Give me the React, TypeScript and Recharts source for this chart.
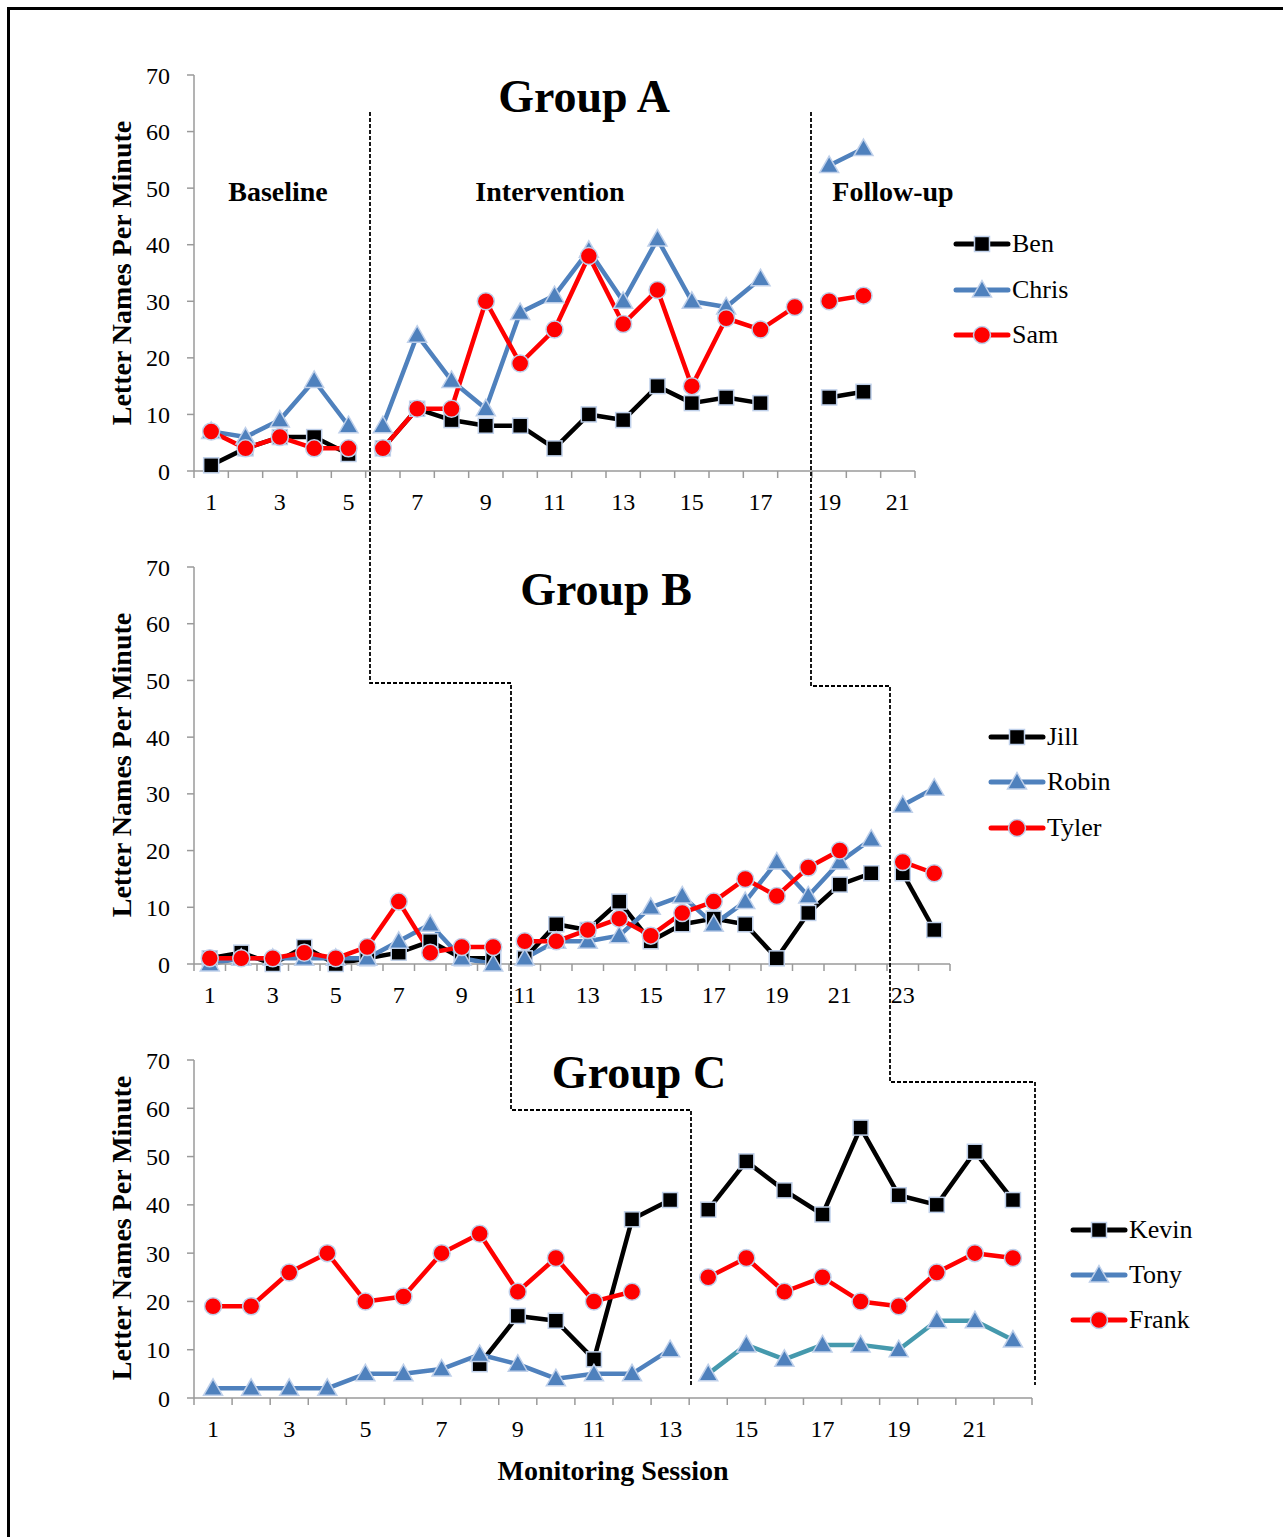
import React from 'react';
import { LineChart, Line, XAxis, YAxis } from 'recharts';

const FONT = '"Liberation Serif", "Times New Roman", serif';
const AXIS = '#9a9a9a';
const EDGE = '#bfd0ea';

// Group A: baseline 1-5, intervention 6-18, follow-up 19-21
const sessionsA = [1, 2, 3, 4, 5, 6, 7, 8, 9, 10, 11, 12, 13, 14, 15, 16, 17, 18, 19, 20, 21];
const ben = [1, 4, 6, 6, 3, 4, 11, 9, 8, 8, 4, 10, 9, 15, 12, 13, 12, null, 13, 14, null];
const chris = [7, 6, 9, 16, 8, 8, 24, 16, 11, 28, 31, 39, 30, 41, 30, 29, 34, null, 54, 57, null];
const sam = [7, 4, 6, 4, 4, 4, 11, 11, 30, 19, 25, 38, 26, 32, 15, 27, 25, 29, 30, 31, null];
const phaseEndsA = [5, 18];

// Group B: baseline 1-10, intervention 11-22, follow-up 23-24
const sessionsB = [1, 2, 3, 4, 5, 6, 7, 8, 9, 10, 11, 12, 13, 14, 15, 16, 17, 18, 19, 20, 21, 22, 23, 24];
const jill = [1, 2, 0, 3, 0, 1, 2, 4, 1, 1, 1, 7, 6, 11, 4, 7, 8, 7, 1, 9, 14, 16, 16, 6];
const robin = [0, 1, 1, 1, 1, 1, 4, 7, 1, 0, 1, 4, 4, 5, 10, 12, 7, 11, 18, 12, 18, 22, 28, 31];
const tyler = [1, 1, 1, 2, 1, 3, 11, 2, 3, 3, 4, 4, 6, 8, 5, 9, 11, 15, 12, 17, 20, null, 18, 16];
const phaseEndsB = [10, 22];

// Group C: 1-13, follow-up 14-22
const sessionsC = [1, 2, 3, 4, 5, 6, 7, 8, 9, 10, 11, 12, 13, 14, 15, 16, 17, 18, 19, 20, 21, 22];
const kevin = [null, null, null, null, null, null, null, 7, 17, 16, 8, 37, 41, 39, 49, 43, 38, 56, 42, 40, 51, 41];
const tony = [2, 2, 2, 2, 5, 5, 6, 9, 7, 4, 5, 5, 10, 5, 11, 8, 11, 11, 10, 16, 16, 12];
const frank = [19, 19, 26, 30, 20, 21, 30, 34, 22, 29, 20, 22, null, 25, 29, 22, 25, 20, 19, 26, 30, 29];
const phaseEndsC = [13];

const yTicks = [0, 10, 20, 30, 40, 50, 60, 70];

type Series = { key: string; name: string; values: (number | null)[]; shape: string; fill: string; strokes: string[] };

const seriesA: Series[] = [
  { key: 'ben', name: 'Ben', values: ben, shape: 'square', fill: '#000000', strokes: ['#000000'] },
  { key: 'chris', name: 'Chris', values: chris, shape: 'triangle', fill: '#4f81bd', strokes: ['#4f81bd'] },
  { key: 'sam', name: 'Sam', values: sam, shape: 'circle', fill: '#ff0000', strokes: ['#ff0000'] },
];
const seriesB: Series[] = [
  { key: 'jill', name: 'Jill', values: jill, shape: 'square', fill: '#000000', strokes: ['#000000'] },
  { key: 'robin', name: 'Robin', values: robin, shape: 'triangle', fill: '#4f81bd', strokes: ['#4f81bd'] },
  { key: 'tyler', name: 'Tyler', values: tyler, shape: 'circle', fill: '#ff0000', strokes: ['#ff0000'] },
];
const seriesC: Series[] = [
  { key: 'kevin', name: 'Kevin', values: kevin, shape: 'square', fill: '#000000', strokes: ['#000000'] },
  { key: 'tony', name: 'Tony', values: tony, shape: 'triangle', fill: '#4f81bd', strokes: ['#4f81bd', '#4599ad'] },
  { key: 'frank', name: 'Frank', values: frank, shape: 'circle', fill: '#ff0000', strokes: ['#ff0000'] },
];

// split every series into one column per phase so the line breaks at phase changes
const buildRows = (sessions: number[], series: Series[], phaseEnds: number[]) =>
  sessions.map((s, i) => {
    const row: any = { s };
    const phase = phaseEnds.filter((e) => s > e).length;
    series.forEach((sr) => {
      row[`${sr.key}_${phase}`] = sr.values[i];
    });
    return row;
  });

const Marker = ({ shape, fill, cx, cy }: { shape: string; fill: string; cx: number; cy: number }) => {
  if (shape === 'square')
    return <rect x={cx - 7.5} y={cy - 7.5} width={15} height={15} fill={fill} stroke={EDGE} strokeWidth={1.5} />;
  if (shape === 'triangle')
    return (
      <polygon
        points={`${cx},${cy - 9.5} ${cx + 9.5},${cy + 7} ${cx - 9.5},${cy + 7}`}
        fill={fill}
        stroke={EDGE}
        strokeWidth={1.5}
      />
    );
  return <circle cx={cx} cy={cy} r={8.5} fill={fill} stroke={EDGE} strokeWidth={1.5} />;
};

const makeDot = (shape: string, fill: string) => (p: any) => {
  const { cx, cy, value, index } = p;
  if (cx == null || cy == null || value == null) return <g key={`d-${index}`} />;
  return (
    <g key={`d-${index}`}>
      <Marker shape={shape} fill={fill} cx={cx} cy={cy} />
    </g>
  );
};

// Excel-like category ticks: marks on band edges, labels on odd sessions
const makeTick = (last: number, band: number) => (props: any) => {
  const { x, y, payload } = props;
  const v = payload.value;
  return (
    <g>
      <line x1={x - band / 2} x2={x - band / 2} y1={y} y2={y + 7} stroke={AXIS} strokeWidth={1.5} />
      {v === last && <line x1={x + band / 2} x2={x + band / 2} y1={y} y2={y + 7} stroke={AXIS} strokeWidth={1.5} />}
      {v % 2 === 1 && (
        <text x={x} y={y + 39} textAnchor="middle" fill="#000" style={{ fontFamily: FONT, fontSize: 24 }}>
          {v}
        </text>
      )}
    </g>
  );
};

type ChartCfg = {
  top: number;
  height: number;
  plotTop: number;
  plotBottom: number;
  plotRight: number;
  sessions: number[];
  series: Series[];
  phaseEnds: number[];
};

const PLOT_LEFT = 194;
const W = 1283;

const PhaseChart = ({ cfg }: { cfg: ChartCfg }) => {
  const data = buildRows(cfg.sessions, cfg.series, cfg.phaseEnds);
  const n = cfg.sessions.length;
  const band = (cfg.plotRight - PLOT_LEFT) / n;
  const localTop = cfg.plotTop - cfg.top;
  const localBottom = cfg.plotBottom - cfg.top;
  const nPhases = cfg.phaseEnds.length + 1;
  return (
    <div style={{ position: 'absolute', left: 0, top: cfg.top, width: W, height: cfg.height, fontFamily: FONT }}>
      <LineChart
        width={W}
        height={cfg.height}
        data={data}
        style={{ fontFamily: FONT }}
        margin={{ top: localTop, right: W - cfg.plotRight, bottom: cfg.height - localBottom - 40, left: PLOT_LEFT - 60 }}
      >
        <XAxis
          type="number"
          dataKey="s"
          domain={[0.5, n + 0.5]}
          ticks={cfg.sessions}
          interval={0}
          allowDataOverflow
          height={40}
          tickSize={0}
          tickMargin={0}
          tickLine={false}
          axisLine={{ stroke: AXIS, strokeWidth: 1.5 }}
          tick={makeTick(n, band)}
        />
        <YAxis
          domain={[0, 70]}
          ticks={yTicks}
          interval={0}
          width={60}
          tickSize={7}
          tickMargin={17}
          axisLine={{ stroke: AXIS, strokeWidth: 1.5 }}
          tickLine={{ stroke: AXIS, strokeWidth: 1.5 }}
          tick={{ fontSize: 24, fill: '#000', fontFamily: FONT, style: { fontFamily: FONT } }}
        />
        {cfg.series.flatMap((sr) =>
          Array.from({ length: nPhases }, (_, ph) => (
            <Line
              key={`${sr.key}_${ph}`}
              type="linear"
              dataKey={`${sr.key}_${ph}`}
              stroke={sr.strokes[Math.min(ph, sr.strokes.length - 1)]}
              strokeWidth={4.5}
              strokeLinejoin="round"
              dot={makeDot(sr.shape, sr.fill)}
              activeDot={false}
              connectNulls={false}
              isAnimationActive={false}
            />
          ))
        )}
      </LineChart>
    </div>
  );
};

const Text = ({ x, y, size, bold, children }: any) => (
  <div
    style={{
      position: 'absolute',
      left: x,
      top: y,
      transform: 'translate(-50%, -50%)',
      fontFamily: FONT,
      fontSize: size,
      fontWeight: bold ? 'bold' : 'normal',
      lineHeight: 1,
      whiteSpace: 'nowrap',
    }}
  >
    {children}
  </div>
);

const YTitle = ({ y }: { y: number }) => (
  <div
    style={{
      position: 'absolute',
      left: 122,
      top: y,
      transform: 'translate(-50%, -50%) rotate(-90deg)',
      fontFamily: FONT,
      fontSize: 28,
      fontWeight: 'bold',
      lineHeight: 1,
      whiteSpace: 'nowrap',
    }}
  >
    Letter Names Per Minute
  </div>
);

const LegendBox = ({ x, ys, series }: { x: number; ys: number[]; series: Series[] }) => (
  <>
    {series.map((sr, i) => (
      <div key={sr.key} style={{ position: 'absolute', left: x, top: ys[i] - 15, height: 30, display: 'flex', alignItems: 'center' }}>
        <svg width={58} height={30}>
          <line x1={3} x2={55} y1={15} y2={15} stroke={sr.strokes[0]} strokeWidth={5} strokeLinecap="round" />
          <Marker shape={sr.shape} fill={sr.fill} cx={29} cy={15} />
        </svg>
        <span style={{ fontFamily: FONT, fontSize: 26, lineHeight: 1, marginLeft: 1 }}>{sr.name}</span>
      </div>
    ))}
  </>
);

const cfgA: ChartCfg = { top: 0, height: 540, plotTop: 75, plotBottom: 471, plotRight: 915, sessions: sessionsA, series: seriesA, phaseEnds: phaseEndsA };
const cfgB: ChartCfg = { top: 540, height: 480, plotTop: 567, plotBottom: 964, plotRight: 950, sessions: sessionsB, series: seriesB, phaseEnds: phaseEndsB };
const cfgC: ChartCfg = { top: 1020, height: 500, plotTop: 1060, plotBottom: 1398, plotRight: 1032, sessions: sessionsC, series: seriesC, phaseEnds: phaseEndsC };

export default function App() {
  return (
    <div style={{ position: 'absolute', left: 0, top: 0, width: 1283, height: 1537, overflow: 'hidden', background: '#fff', fontFamily: FONT }}>
      <div
        style={{
          position: 'absolute',
          left: 7,
          top: 7,
          width: 1290,
          height: 1540,
          borderTop: '3px solid #000',
          borderLeft: '3px solid #000',
        }}
      />
      <PhaseChart cfg={cfgA} />
      <PhaseChart cfg={cfgB} />
      <PhaseChart cfg={cfgC} />

      <YTitle y={273} />
      <YTitle y={765} />
      <YTitle y={1228} />

      <Text x={584} y={97} size={46} bold>Group A</Text>
      <Text x={606} y={590} size={46} bold>Group B</Text>
      <Text x={639} y={1073} size={46} bold>Group C</Text>

      <Text x={278} y={192} size={28} bold>Baseline</Text>
      <Text x={550} y={192} size={28} bold>Intervention</Text>
      <Text x={893} y={192} size={28} bold>Follow-up</Text>

      <Text x={613} y={1471} size={28} bold>Monitoring Session</Text>

      <LegendBox x={953} ys={[244, 290, 335]} series={seriesA} />
      <LegendBox x={988} ys={[737, 782, 828]} series={seriesB} />
      <LegendBox x={1070} ys={[1230, 1275, 1320]} series={seriesC} />

      {/* phase-change lines running across the three panels */}
      <svg width={1283} height={1537} style={{ position: 'absolute', left: 0, top: 0, pointerEvents: 'none' }}>
        <polyline
          points="370,112 370,683 511,683 511,1110 691,1110 691,1385"
          fill="none"
          stroke="#000"
          strokeWidth={1.8}
          strokeDasharray="4 2"
        />
        <polyline
          points="811,112 811,686 890,686 890,1082 1035,1082 1035,1385"
          fill="none"
          stroke="#000"
          strokeWidth={1.8}
          strokeDasharray="4 2"
        />
      </svg>
    </div>
  );
}
